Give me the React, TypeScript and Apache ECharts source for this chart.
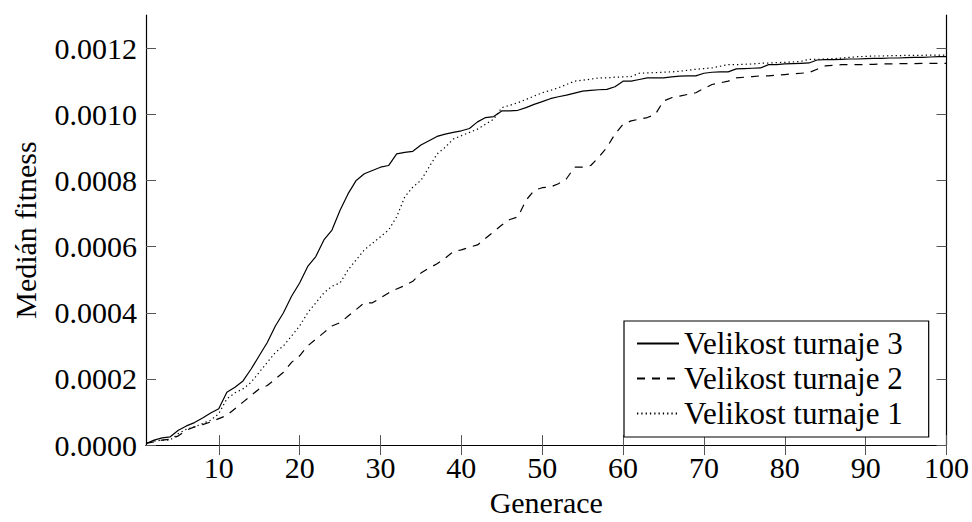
import React, { useEffect, useRef } from "react";
import * as echarts from "echarts";

const generations: number[] = Array.from({ length: 100 }, (_, i) => i + 1);

const turnaj3: number[] = [
  0.000005, 0.000015, 0.000022, 0.000025, 0.000045, 0.000058, 0.000068, 0.000082, 0.000097, 0.00011,
  0.00016, 0.000175, 0.000194, 0.00023, 0.00027, 0.00031, 0.00036, 0.0004, 0.00045, 0.00049,
  0.00054, 0.00057, 0.00062, 0.00065, 0.00071, 0.00076, 0.0008, 0.00082, 0.00083, 0.00084,
  0.000845, 0.00088, 0.000885, 0.000888, 0.000907, 0.00092, 0.000933, 0.00094, 0.000945, 0.00095,
  0.000957, 0.000977, 0.00099, 0.000993, 0.00101, 0.00101, 0.001012, 0.00102, 0.00103, 0.001038,
  0.001047, 0.001053, 0.001058, 0.001064, 0.00107, 0.001072, 0.001074, 0.001075, 0.001083, 0.0011,
  0.0011, 0.001105, 0.00111, 0.00111, 0.00111, 0.001113, 0.001115, 0.001116, 0.001116, 0.001124,
  0.001127, 0.001128, 0.001128, 0.001137, 0.001138, 0.001139, 0.00114, 0.00115, 0.00115, 0.001152,
  0.001153, 0.001154, 0.001155, 0.001164, 0.001165, 0.001165, 0.001166, 0.001167, 0.001167, 0.001168,
  0.001169, 0.001169, 0.00117, 0.00117, 0.001171, 0.001172, 0.001172, 0.001173, 0.001174, 0.001174,
];

const turnaj2: number[] = [
  0.000005, 0.00001, 0.000015, 0.000018, 0.000028, 0.000045, 0.000055, 0.000062, 0.00007, 0.00008,
  0.00009, 0.00011, 0.00013, 0.00015, 0.00017, 0.00018, 0.0002, 0.00022, 0.00025, 0.00027,
  0.0003, 0.00032, 0.00034, 0.00036, 0.00037, 0.00039, 0.00041, 0.00043, 0.00043, 0.000445,
  0.00046, 0.000472, 0.000482, 0.000495, 0.00052, 0.000535, 0.000548, 0.000565, 0.000585, 0.00059,
  0.000598, 0.000605, 0.000625, 0.000645, 0.000665, 0.000682, 0.00069, 0.00074, 0.00077, 0.000778,
  0.00078, 0.00079, 0.000805, 0.00084, 0.00084, 0.000845, 0.00087, 0.0009, 0.00094, 0.00097,
  0.00098, 0.000985, 0.00099, 0.001, 0.00104, 0.00105, 0.001055, 0.00106, 0.001065, 0.001078,
  0.00109, 0.001095, 0.0011, 0.00111, 0.001112, 0.001114, 0.001116, 0.001116, 0.001118, 0.00112,
  0.001122, 0.001124, 0.001126, 0.001136, 0.001146, 0.001148, 0.00115, 0.00115, 0.00115, 0.00115,
  0.001151, 0.001152, 0.001152, 0.001153, 0.001153, 0.001153, 0.001154, 0.001154, 0.001154, 0.001154,
];

const turnaj1: number[] = [
  0.000005, 0.000012, 0.000015, 0.000015, 0.000035, 0.000048, 0.000055, 0.000065, 0.000075, 0.000095,
  0.00014, 0.000158, 0.00017, 0.00019, 0.00022, 0.00025, 0.00028, 0.0003, 0.00033, 0.00036,
  0.0004, 0.00043, 0.00046, 0.00048, 0.00049, 0.00053, 0.00056, 0.00059, 0.00061, 0.00063,
  0.00065, 0.00069, 0.00075, 0.00078, 0.0008, 0.00084, 0.00088, 0.0009, 0.000925, 0.000935,
  0.000945, 0.000955, 0.00097, 0.000985, 0.00102, 0.001027, 0.001035, 0.001045, 0.001055, 0.001065,
  0.001072, 0.00108, 0.00109, 0.0011, 0.001103, 0.001106, 0.00111, 0.00111, 0.001112, 0.001113,
  0.001114, 0.001124, 0.001125, 0.001126, 0.001127, 0.001128, 0.00113, 0.001133, 0.001136, 0.001138,
  0.00114, 0.001145, 0.00115, 0.00115, 0.001151, 0.001152, 0.001154, 0.001155, 0.001156, 0.001157,
  0.001158, 0.00116, 0.001166, 0.001166, 0.001167, 0.001168, 0.00117, 0.001172, 0.001174, 0.001175,
  0.001176, 0.001176, 0.001177, 0.001177, 0.001178, 0.001178, 0.001178, 0.001179, 0.001179, 0.001179,
];

const xTicks: number[] = [10, 20, 30, 40, 50, 60, 70, 80, 90, 100];
const yTicks: number[] = [0, 0.0002, 0.0004, 0.0006, 0.0008, 0.001, 0.0012];

const seriesNames: string[] = ["Velikost turnaje 3", "Velikost turnaje 2", "Velikost turnaje 1"];

const FONT = "Liberation Serif, DejaVu Serif, serif";

export default function App() {
  const ref = useRef<HTMLDivElement>(null);

  useEffect(() => {
    if (!ref.current) return;
    const chart = echarts.init(ref.current, undefined, { renderer: "svg" });

    const axisLine = { show: true, lineStyle: { color: "#000", width: 1.2 } };
    const tickStyle = { color: "#555", width: 1 };

    const mk = (vals: number[]) => generations.map((g, i) => [g, vals[i]]);

    chart.setOption({
      animation: false,
      backgroundColor: "#fff",
      textStyle: { fontFamily: FONT },
      grid: { left: 146, right: 23, top: 15, bottom: 72, containLabel: false },
      xAxis: [
        {
          type: "value",
          min: 1,
          max: 100,
          position: "bottom",
          axisLine,
          splitLine: { show: false },
          axisTick: { show: true, inside: true, length: 10, lineStyle: tickStyle, customValues: xTicks },
          axisLabel: {
            show: true,
            customValues: xTicks,
            margin: 7,
            color: "#000",
            fontSize: 30,
            fontFamily: FONT,
            formatter: (v: number) => String(v),
          },
          name: "Generace",
          nameLocation: "middle",
          nameGap: 35,
          nameTextStyle: { color: "#000", fontSize: 30, fontFamily: FONT },
        },
        {
          type: "value",
          min: 1,
          max: 100,
          position: "top",
          axisLine,
          splitLine: { show: false },
          axisTick: { show: true, inside: true, length: 10, lineStyle: tickStyle, customValues: xTicks },
          axisLabel: { show: false },
        },
      ],
      yAxis: [
        {
          type: "value",
          min: 0,
          max: 0.0013,
          position: "left",
          axisLine,
          splitLine: { show: false },
          axisTick: { show: true, inside: true, length: 10, lineStyle: tickStyle, customValues: yTicks },
          axisLabel: {
            show: true,
            customValues: yTicks,
            margin: 9,
            color: "#000",
            fontSize: 30,
            fontFamily: FONT,
            formatter: (v: number) => v.toFixed(4),
          },
          name: "Medián fitness",
          nameLocation: "middle",
          nameGap: 106,
          nameRotate: 90,
          nameTextStyle: { color: "#000", fontSize: 30, fontFamily: FONT },
        },
        {
          type: "value",
          min: 0,
          max: 0.0013,
          position: "right",
          axisLine,
          splitLine: { show: false },
          axisTick: { show: true, inside: true, length: 10, lineStyle: tickStyle, customValues: yTicks },
          axisLabel: { show: false },
        },
      ],
      legend: {
        orient: "vertical",
        left: 624,
        top: 321,
        padding: [7, 26, 8, 12],
        itemGap: 4,
        itemWidth: 42,
        itemHeight: 14,
        backgroundColor: "#fff",
        borderColor: "#000",
        borderWidth: 1.2,
        borderRadius: 0,
        data: seriesNames,
        itemStyle: { opacity: 0 },
        textStyle: { color: "#000", fontSize: 31, fontFamily: FONT },
      },
      series: [
        {
          name: seriesNames[0],
          type: "line",
          data: mk(turnaj3),
          symbol: "none",
          color: "#000",
          lineStyle: { color: "#000", width: 1.2, type: "solid" },
        },
        {
          name: seriesNames[1],
          type: "line",
          data: mk(turnaj2),
          symbol: "none",
          color: "#000",
          lineStyle: { color: "#000", width: 1.2, type: [8, 7] },
        },
        {
          name: seriesNames[2],
          type: "line",
          data: mk(turnaj1),
          symbol: "none",
          color: "#000",
          lineStyle: { color: "#000", width: 1.2, type: [1.3, 3] },
        },
      ],
    });

    return () => chart.dispose();
  }, []);

  return (
    <div
      ref={ref}
      style={{ position: "absolute", left: 0, top: 0, width: 972, height: 522 }}
    />
  );
}
